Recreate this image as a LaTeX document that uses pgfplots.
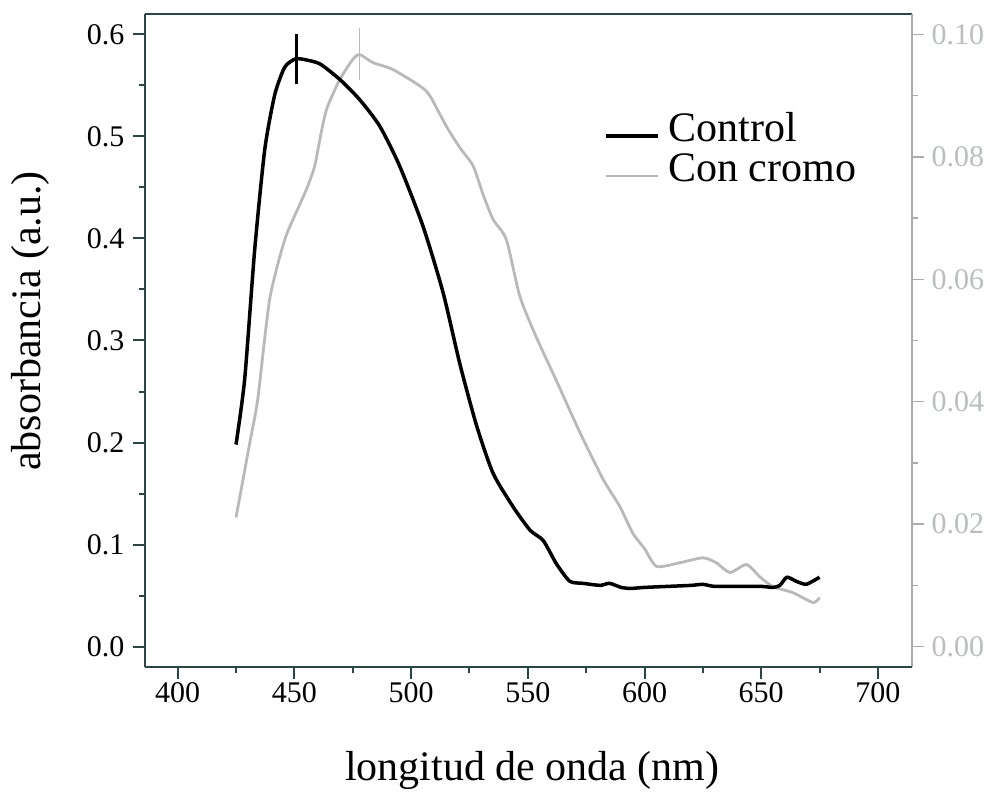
\documentclass[border=0pt]{standalone}
\usepackage{pgfplots}
\pgfplotsset{compat=1.18}
\usepackage{fontspec}
\setmainfont{Liberation Serif}
\definecolor{axiscol}{RGB}{40,70,70}
\definecolor{curvegray}{RGB}{185,185,185}
\definecolor{raxis}{RGB}{170,172,172}
\definecolor{rlabel}{RGB}{185,190,190}

\begin{document}
\begin{tikzpicture}
\path[use as bounding box] (-145pt,-125pt) rectangle (852pt,667pt);
\pgfplotsset{common/.style={width=767pt,height=653pt,scale only axis,
  xmin=386,xmax=714.6, at={(0pt,0pt)}, anchor=south west,
  tick align=outside, major tick length=12pt, minor tick length=6pt,
  /pgf/number format/assume math mode=true,
  ticklabel style={font=\fontsize{30}{36}\selectfont}}}

% right axis: Con cromo
\begin{axis}[common,
  ymin=-0.0033333, ymax=0.1033333,
  axis x line*=top, axis y line*=right, xtick=\empty,
  x axis line style={draw=axiscol,line width=2.5pt},
  y axis line style={draw=raxis,line width=2pt},
  ytick={0,0.02,0.04,0.06,0.08,0.1}, minor y tick num=1,
  tick style={draw=raxis,line width=1.5pt},
  yticklabel style={text=rlabel,xshift=4pt,/pgf/number format/.cd,fixed,fixed zerofill,precision=2}]
\addplot[curvegray, line width=2.8pt, line join=round, smooth, tension=0.4] coordinates {
(425,0.0211) (430.9,0.0333) (434.3,0.0404) (439.4,0.0567) (445.9,0.0665)
(452.3,0.0722) (455.5,0.0750) (458.7,0.0785) (461.5,0.0840) (464,0.0880)
(469.4,0.0926) (475,0.0959)
(478,0.0967) (483.6,0.0954) (492,0.0943) (503.7,0.0916) (508,0.0900)
(515.1,0.0850) (520.9,0.0815) (526.6,0.0785) (530.7,0.0740) (535.1,0.0698)
(540.8,0.0665) (546.6,0.0572) (553.7,0.0505) (562.3,0.0434) (572.3,0.0350)
(582.3,0.0273) (589.4,0.0229) (595,0.0185) (600,0.0160) (605.2,0.0131)
(615.1,0.0137) (625,0.0145) (630.7,0.0137) (636.6,0.0121) (643.7,0.0134)
(649.4,0.0114) (655,0.0098) (663.6,0.0088) (672.2,0.0072) (675,0.0080)
};
\addplot[curvegray, line width=1.5pt] coordinates {(478,0.0926) (478,0.1011)};
\end{axis}

% left axis: Control
\begin{axis}[common,
  ymin=-0.02, ymax=0.62,
  axis x line*=bottom, axis y line*=left,
  axis line style={draw=axiscol,line width=2.5pt},
  tick style={draw=axiscol,line width=2pt},
  xtick={400,450,...,700}, minor x tick num=1,
  ytick={0,0.1,0.2,0.3,0.4,0.5,0.6}, minor y tick num=1,
  yticklabel style={xshift=-5pt,/pgf/number format/.cd,fixed,fixed zerofill,precision=1},
  xlabel={longitud de onda (nm)}, ylabel={absorbancia (a.u.)},
  label style={font=\fontsize{42}{50}\selectfont},
  xlabel style={at={(axis description cs:0.505,-0.159)},anchor=center},
  ylabel style={at={(axis description cs:-0.15,0.53)},anchor=center},
  legend style={draw=none,fill=none,at={(axis description cs:0.598,0.849)},
    anchor=north west,inner sep=0pt,row sep=10pt,
    font=\fontsize{42}{48}\selectfont,
    nodes={inner ysep=0pt,inner xsep=9pt}},
  legend cell align=left,
  legend image code/.code={\draw[#1] (0pt,-8pt) -- (52pt,-8pt);}]
\addplot[black, line width=3.5pt, line join=round, smooth, tension=0.4] coordinates {
(425,0.198) (428.7,0.262) (433,0.389) (437.3,0.487) (441.6,0.541)
(445.9,0.568) (450.5,0.576) (455,0.575) (461,0.571) (469.4,0.556)
(478,0.536) (486.6,0.510) (495.1,0.471) (505.1,0.412) (513.7,0.347)
(520.9,0.277) (528,0.217) (535.1,0.170) (543.7,0.137) (551,0.114)
(556.6,0.104) (562.3,0.081) (568,0.064) (573.7,0.062) (581,0.060)
(585,0.062) (590,0.058) (594,0.057) (600,0.058) (610,0.059)
(620,0.060) (625,0.061) (630,0.059) (640,0.059) (650,0.059)
(655,0.058) (658,0.060) (661,0.068) (665,0.064) (669,0.061)
(672,0.064) (675,0.068)
};
\addlegendentry{Control}
\addlegendimage{curvegray, line width=2.8pt}
\addlegendentry{Con cromo}
\addplot[black, line width=3.5pt, forget plot] coordinates {(451,0.551) (451,0.600)};
\end{axis}
\end{tikzpicture}
\end{document}
